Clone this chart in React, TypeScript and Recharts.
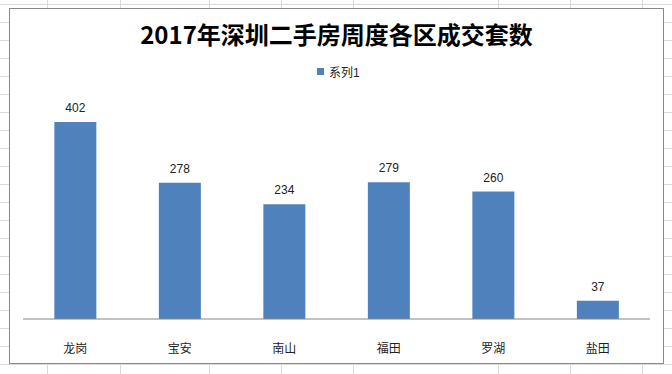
import React from "react";
import { BarChart, Bar, XAxis, YAxis, LabelList } from "recharts";

const districts = ["龙岗", "宝安", "南山", "福田", "罗湖", "盐田"];
const deals = [402, 278, 234, 279, 260, 37];
const seriesName = "系列1";
const chartTitle = "2017年深圳二手房周度各区成交套数";

const data = districts.map((name, i) => ({ name, value: deals[i] }));

const gridCols = [47, 120, 209, 281, 353, 498, 570, 642];
const gridRows = Array.from({ length: 21 }, (_, i) => 4 + i * 18);

const FONT = '"Liberation Sans", "Noto Sans CJK SC", sans-serif';
const BLUE = "#4F81BD";

const CatTick = (props: any) => {
  const { x, y, payload } = props;
  return (
    <text x={x} y={y + 26} textAnchor="middle" fontSize={12} fill="#222" fontFamily={FONT}>
      {payload.value}
    </text>
  );
};

export default function App() {
  return (
    <div
      style={{
        position: "absolute",
        left: 0,
        top: 0,
        width: 672,
        height: 374,
        background: "#fff",
        overflow: "hidden",
      }}
    >
      {gridRows.map((y) => (
        <div
          key={"r" + y}
          style={{ position: "absolute", left: 0, top: y, width: 672, height: 1, background: "#dadada" }}
        />
      ))}
      {gridCols.map((x) => (
        <div
          key={"c" + x}
          style={{ position: "absolute", left: x, top: 0, width: 1, height: 374, background: "#dadada" }}
        />
      ))}
      <div
        style={{
          position: "absolute",
          left: 9,
          top: 8,
          width: 653,
          height: 354,
          border: "1px solid #8a8a8a",
          background: "#fff",
        }}
      >
        <div
          style={{
            position: "absolute",
            left: 0,
            top: 10,
            width: 653,
            textAlign: "center",
            fontFamily: '"Noto Sans CJK SC", sans-serif',
            fontWeight: "bold",
            fontSize: 24,
            lineHeight: "30px",
            color: "#000",
          }}
        >
          {chartTitle}
        </div>
        <div
          style={{
            position: "absolute",
            left: 307,
            top: 54,
            height: 16,
            display: "flex",
            alignItems: "center",
            fontFamily: FONT,
            fontSize: 12,
            color: "#222",
          }}
        >
          <span style={{ display: "inline-block", width: 7, height: 7, background: BLUE, marginRight: 5 }} />
          <span>{seriesName}</span>
        </div>
        <BarChart
          width={653}
          height={354}
          data={data}
          margin={{ top: 89.5, right: 13, bottom: 0, left: 13 }}
          barCategoryGap="30%"
        >
          <YAxis hide domain={[0, 450]} />
          <XAxis
            dataKey="name"
            height={44}
            tickLine={false}
            axisLine={{ stroke: "#868686", strokeWidth: 1 }}
            tick={<CatTick />}
            interval={0}
          />
          <Bar dataKey="value" fill={BLUE} isAnimationActive={false}>
            <LabelList
              dataKey="value"
              position="top"
              offset={10}
              fontSize={12}
              fill="#222"
              fontFamily={FONT}
            />
          </Bar>
        </BarChart>
      </div>
    </div>
  );
}
